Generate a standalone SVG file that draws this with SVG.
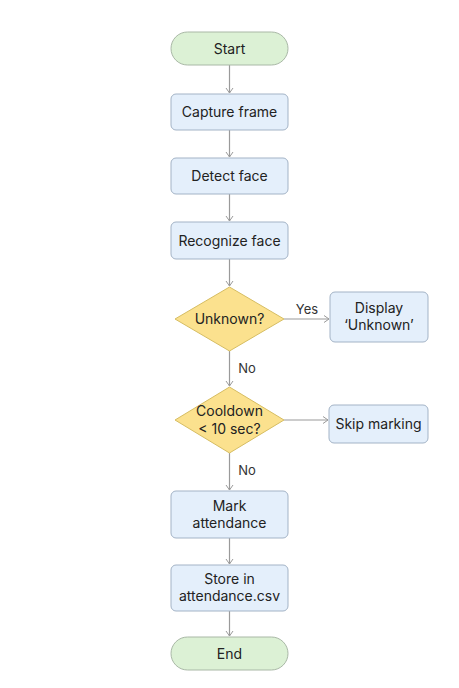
<svg xmlns="http://www.w3.org/2000/svg" width="459" height="688" viewBox="0 0 459 688">
<defs>
<marker id="arr" markerWidth="10" markerHeight="10" refX="8" refY="5" orient="auto" markerUnits="userSpaceOnUse">
<path d="M3,1.5 L8,5 L3,8.5" fill="none" stroke="#9a9a9a" stroke-width="1"/>
</marker>
<style>
text{font-family:Inter,"Liberation Sans",sans-serif;font-size:14px;fill:#222;text-anchor:middle}
.term{fill:#dcf1d5;stroke:#a9b8a6;stroke-width:1}
.proc{fill:#e4effb;stroke:#a3b3c6;stroke-width:1}
.dec{fill:#fbe18e;stroke:#d6bd62;stroke-width:1}
.lbl{font-size:13px;fill:#333}
#connectors path{fill:none;stroke:#9a9a9a;stroke-width:1.2;marker-end:url(#arr)}
</style>
</defs>
<rect width="459" height="688" fill="#fff"/>
<g id="connectors">
<path d="M229.5,65 V93"/>
<path d="M229.5,130 V157"/>
<path d="M229.5,194 V221"/>
<path d="M229.5,259 V286"/>
<path d="M284,319 H329"/>
<path d="M229.5,351 V386"/>
<path d="M284,420 H328"/>
<path d="M229.5,453 V490"/>
<path d="M229.5,538 V564"/>
<path d="M229.5,611 V636"/>
<text class="lbl" x="307" y="314">Yes</text>
<text class="lbl" x="247" y="373">No</text>
<text class="lbl" x="247" y="475">No</text>
</g>
<g id="start"><rect class="term" x="171" y="32" width="117" height="33" rx="16.5"/><text x="229.5" y="53.5">Start</text></g>
<g id="capture"><rect class="proc" x="171" y="94" width="117" height="36" rx="5"/><text x="229.5" y="117">Capture frame</text></g>
<g id="detect"><rect class="proc" x="171" y="158" width="117" height="36" rx="5"/><text x="229.5" y="181">Detect face</text></g>
<g id="recognize"><rect class="proc" x="171" y="222" width="117" height="37" rx="5"/><text x="229.5" y="245.5">Recognize face</text></g>
<g id="unknown"><polygon class="dec" points="229.5,287 284,319 229.5,351 175,319"/><text x="229.5" y="324">Unknown?</text></g>
<g id="display"><rect class="proc" x="330" y="292" width="98" height="50" rx="5"/><text x="379" y="313">Display</text><text x="379" y="330">‘Unknown’</text></g>
<g id="cooldown"><polygon class="dec" points="229.5,387 284,420 229.5,453 175,420"/><text x="229.5" y="416">Cooldown</text><text x="229.5" y="434">&lt; 10 sec?</text></g>
<g id="skip"><rect class="proc" x="329" y="405" width="99" height="38" rx="5"/><text x="378.5" y="429">Skip marking</text></g>
<g id="mark"><rect class="proc" x="171" y="491" width="117" height="47" rx="5"/><text x="229.5" y="511">Mark</text><text x="229.5" y="528">attendance</text></g>
<g id="store"><rect class="proc" x="171" y="565" width="117" height="46" rx="5"/><text x="229.5" y="584">Store in</text><text x="229.5" y="601">attendance.csv</text></g>
<g id="end"><rect class="term" x="171" y="637" width="117" height="33" rx="16.5"/><text x="229.5" y="658.5">End</text></g>
</svg>
